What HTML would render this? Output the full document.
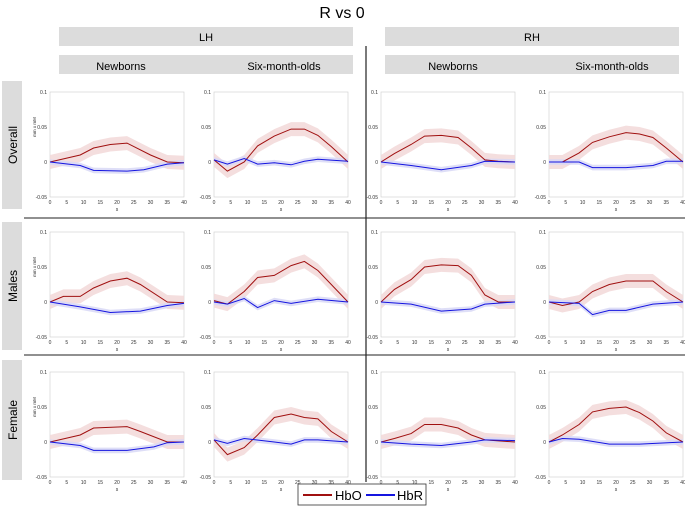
<!DOCTYPE html>
<html><head><meta charset="utf-8"><style>
body{margin:0;background:#fff;}
svg{display:block;font-family:"Liberation Sans",sans-serif;}
</style></head><body>
<svg id="s" width="685" height="507" viewBox="0 0 685 507" xmlns="http://www.w3.org/2000/svg">
<text x="342" y="18" font-size="16" text-anchor="middle">R vs 0</text>
<rect x="59" y="27" width="294" height="19" fill="#dcdcdc"/>
<rect x="385" y="27" width="294" height="19" fill="#dcdcdc"/>
<text x="206" y="41" font-size="11" text-anchor="middle">LH</text>
<text x="532" y="41" font-size="11" text-anchor="middle">RH</text>
<rect x="59" y="55" width="294" height="19" fill="#dcdcdc"/>
<rect x="385" y="55" width="294" height="19" fill="#dcdcdc"/>
<text x="121" y="70" font-size="11" text-anchor="middle">Newborns</text>
<text x="284" y="70" font-size="11" text-anchor="middle">Six-month-olds</text>
<text x="453" y="70" font-size="11" text-anchor="middle">Newborns</text>
<text x="612" y="70" font-size="11" text-anchor="middle">Six-month-olds</text>
<rect x="2" y="81" width="20" height="128" fill="#dcdcdc"/>
<rect x="2" y="222" width="20" height="128" fill="#dcdcdc"/>
<rect x="2" y="360" width="20" height="120" fill="#dcdcdc"/>
<text transform="translate(17,145) rotate(-90)" font-size="12" text-anchor="middle">Overall</text>
<text transform="translate(17,286) rotate(-90)" font-size="12" text-anchor="middle">Males</text>
<text transform="translate(17,420) rotate(-90)" font-size="12" text-anchor="middle">Female</text>
<line x1="366" y1="46" x2="366" y2="482" stroke="#222" stroke-width="1.2"/>
<line x1="24" y1="218" x2="685" y2="218" stroke="#222" stroke-width="1"/>
<line x1="24" y1="355" x2="685" y2="355" stroke="#222" stroke-width="1"/>
<g id="plots"></g>
<rect x="298" y="484" width="128" height="21" fill="#fff" stroke="#333" stroke-width="0.8"/>
<line x1="303" y1="495" x2="332" y2="495" stroke="#a01010" stroke-width="2"/>
<text x="335" y="500" font-size="13">HbO</text>
<line x1="366" y1="495" x2="395" y2="495" stroke="#1515e0" stroke-width="2"/>
<text x="397" y="500" font-size="13">HbR</text>
</svg>
<script>
const cols=[50,214,381,549], W=134, rows=[92,232,372], H=105;
const D=[
[[[0,0],[9,10],[13,20],[18,25],[23,27],[30,10],[35,0],[40,-1]],[[0,0],[9,-5],[13,-12],[23,-13],[28,-11],[35,-3],[40,-1]]],
[[[0,3],[4,-13],[9,0],[13,23],[18,37],[23,47],[27,47],[31,38],[35,22],[40,0]],[[0,3],[4,-3],[9,5],[13,-3],[18,-1],[23,-4],[27,1],[31,4],[40,1]]],
[[[0,0],[4,12],[9,25],[13,37],[18,38],[23,35],[27,20],[31,3],[35,1],[40,0]],[[0,0],[9,-5],[18,-11],[27,-5],[31,1],[40,0]]],
[[[0,0],[4,0],[9,13],[13,28],[18,36],[23,42],[27,40],[31,35],[35,20],[40,0]],[[0,0],[9,0],[13,-8],[23,-8],[31,-5],[35,1],[40,1]]],
[[[0,0],[4,8],[9,8],[13,20],[18,30],[23,34],[27,25],[35,0],[40,-1]],[[0,0],[9,-7],[18,-15],[27,-13],[35,-5],[40,-2]]],
[[[0,2],[4,-3],[9,15],[13,35],[18,38],[23,52],[27,58],[31,45],[35,25],[40,0]],[[0,0],[4,-3],[9,5],[13,-8],[18,2],[23,-2],[31,4],[40,0]]],
[[[0,0],[4,18],[9,32],[13,50],[18,53],[23,52],[27,38],[31,10],[35,0],[40,0]],[[0,0],[9,-3],[18,-13],[27,-10],[31,-3],[40,0]]],
[[[0,0],[4,-5],[9,0],[13,15],[18,25],[23,30],[31,30],[35,15],[40,0]],[[0,0],[9,-2],[13,-18],[18,-12],[23,-12],[31,-3],[40,0]]],
[[[0,0],[9,10],[13,20],[23,22],[27,15],[35,0],[40,0]],[[0,0],[9,-5],[13,-12],[23,-12],[31,-7],[35,-1],[40,0]]],
[[[0,3],[4,-18],[9,-8],[13,10],[18,35],[23,40],[27,35],[31,33],[35,15],[40,0]],[[0,3],[4,-2],[9,5],[18,0],[23,-3],[27,3],[31,3],[40,0]]],
[[[0,0],[4,5],[9,12],[13,25],[18,25],[23,20],[27,10],[31,3],[40,0]],[[0,0],[9,-3],[18,-5],[27,0],[31,3],[40,2]]],
[[[0,0],[4,10],[9,25],[13,43],[18,48],[23,50],[27,42],[31,30],[35,13],[40,0]],[[0,0],[4,5],[9,4],[18,-3],[27,-3],[40,0]]]];
let h='';
rows.forEach((y0,r)=>cols.forEach((x0,c)=>{
 const X=v=>x0+v/40*W, Y=v=>y0+(100-v)/150*H;
 h+=`<rect x="${x0}" y="${y0}" width="${W}" height="${H}" fill="#fff" stroke="#ccc" stroke-width="0.6"/>`;
 for(let t=0;t<=40;t+=5){h+=`<text x="${X(t)}" y="${y0+H+7}" font-size="5" text-anchor="middle" fill="#333">${t}</text>`;}
 h+=`<text x="${X(20)}" y="${y0+H+14}" font-size="5" text-anchor="middle" fill="#333">s</text>`;
 [[100,'0.1'],[50,'0.05'],[0,'0'],[-50,'-0.05']].forEach(([v,l])=>{h+=`<text x="${x0-3}" y="${Y(v)+2}" font-size="5" text-anchor="end" fill="#333">${l}</text>`;});
 if(c==0) h+=`<text transform="translate(${x0-14},${Y(50)}) rotate(-90)" font-size="4.5" text-anchor="middle" fill="#333">mm x mM</text>`;
 const d=D[r*4+c];
 [[d[0],'#f2d8d8','#a01010',10],[d[1],'#d8d8f6','#1515e0',4]].forEach(([p,bf,lc,w])=>{
  const up=p.map(q=>`${X(q[0]).toFixed(1)},${Y(q[1]+w).toFixed(1)}`), lo=p.slice().reverse().map(q=>`${X(q[0]).toFixed(1)},${Y(q[1]-w).toFixed(1)}`);
  h+=`<polygon points="${up.concat(lo).join(' ')}" fill="${bf}" opacity="0.85"/>`;
 });
 [[d[0],'#a01010'],[d[1],'#1515e0']].forEach(([p,lc])=>{
  h+=`<polyline points="${p.map(q=>X(q[0]).toFixed(1)+','+Y(q[1]).toFixed(1)).join(' ')}" fill="none" stroke="${lc}" stroke-width="1"/>`;
 });
}));
document.getElementById('plots').innerHTML=h;
</script>
</body></html>
